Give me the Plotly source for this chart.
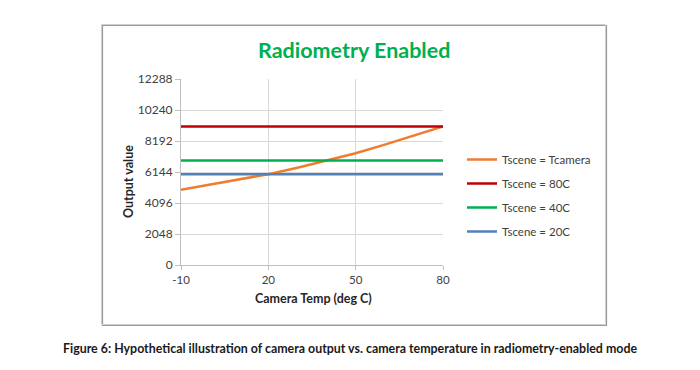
import plotly.graph_objects as go

temps = [-10, 0, 10, 20, 30, 40, 50, 60, 70, 80]
tscene_tcamera = [4976, 5310, 5650, 6000, 6430, 6890, 7380, 7950, 8540, 9150]
tscene_80c = [9150] * len(temps)
tscene_40c = [6900] * len(temps)
tscene_20c = [6000] * len(temps)
x_ticks = [-10, 20, 50, 80]
x_tick_labels = ["-10", "20", "50", "80"]
y_ticks = [0, 2048, 4096, 6144, 8192, 10240, 12288]
y_tick_labels = ["0", "2048", "4096", "6144", "8192", "10240", "12288"]

series = [
    ("Tscene = Tcamera", tscene_tcamera, "#ED7D31"),
    ("Tscene = 80C", tscene_80c, "#C00000"),
    ("Tscene = 40C", tscene_40c, "#00B050"),
    ("Tscene = 20C", tscene_20c, "#4F81BD"),
]

FONT = "Lato"
OFF = 8  # page body margin
W, H = 700 - OFF, 370 - OFF
L, R, T, B = 181 - OFF, 443 - OFF, 79 - OFF, 265 - OFF
pw, ph = R - L, B - T

def px(x):
    return (x - OFF - L) / pw

def py(y):
    return (B - (y - OFF)) / ph

fig = go.Figure()
for i, (name, vals, col) in enumerate(series):
    fig.add_trace(go.Scatter(x=temps, y=vals, mode="lines", name=name,
                             legendgroup=str(i),
                             line=dict(color=col, width=2.5)))

fig.update_layout(
    width=W, height=H,
    margin=dict(l=L, r=W - R, t=T, b=H - B),
    paper_bgcolor="white", plot_bgcolor="white",
    font=dict(family=FONT, size=11.5, color="#404040"),
    showlegend=True,
    legend=dict(x=px(462), y=py(145), xanchor="left", yanchor="top",
                font=dict(family=FONT, size=11.5, color="#404040"),
                tracegroupgap=5, itemwidth=30, bgcolor="rgba(0,0,0,0)"),
    xaxis=dict(range=[-10, 80], tickvals=x_ticks, ticktext=x_tick_labels,
               showgrid=True, gridcolor="#D9D9D9", gridwidth=1, zeroline=False,
               showline=True, linecolor="#BFBFBF", ticks="outside",
               ticklen=4, tickcolor="#BFBFBF", tickfont=dict(size=11.5, color="#404040")),
    yaxis=dict(range=[0, 12288], tickvals=y_ticks, ticktext=y_tick_labels,
               showgrid=True, gridcolor="#D9D9D9", gridwidth=1, zeroline=False,
               showline=True, linecolor="#BFBFBF", ticks="outside",
               ticklen=5, tickcolor="#BFBFBF", tickfont=dict(size=12, color="#404040")),
    shapes=[
        dict(type="rect", xref="paper", yref="paper",
             x0=px(102.5), x1=px(606.5), y0=py(25.5), y1=py(325.5),
             line=dict(color="#9A9A9A", width=1.2), fillcolor="rgba(0,0,0,0)",
             layer="below"),
        dict(type="rect", xref="paper", yref="paper",
             x0=px(101.5), x1=px(605.5), y0=py(24.5), y1=py(324.5),
             line=dict(color="#D0D0D0", width=1), fillcolor="rgba(0,0,0,0)",
             layer="below"),
    ],
    annotations=[
        dict(text="<b>Radiometry Enabled</b>", x=px(354), y=py(50),
             xref="paper", yref="paper", xanchor="center", yanchor="middle",
             showarrow=False, font=dict(family=FONT, size=21.5, color="#00B050")),
        dict(text="<b>Output value</b>", x=px(128), y=py(182), textangle=-90,
             xref="paper", yref="paper", xanchor="center", yanchor="middle",
             showarrow=False, font=dict(family=FONT, size=12.5, color="#262626")),
        dict(text="<b>Camera Temp (deg C)</b>", x=px(313), y=py(298),
             xref="paper", yref="paper", xanchor="center", yanchor="middle",
             showarrow=False, font=dict(family=FONT, size=12.5, color="#262626")),
        dict(text="<b>Figure 6: Hypothetical illustration of camera output vs. camera temperature in radiometry-enabled mode</b>",
             x=px(350), y=py(348),
             xref="paper", yref="paper", xanchor="center", yanchor="middle",
             showarrow=False, font=dict(family=FONT, size=12.4, color="#1a1a1a")),
    ],
)

fig.write_html("out.html")
